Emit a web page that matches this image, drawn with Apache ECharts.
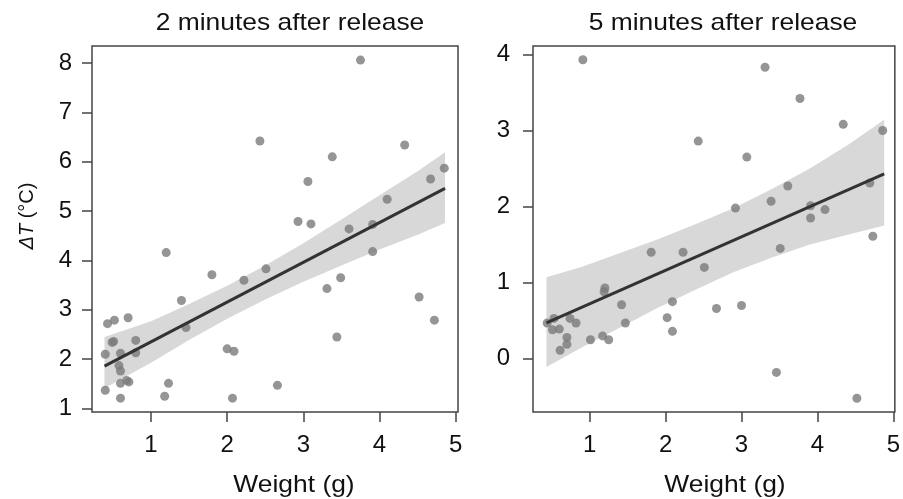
<!DOCTYPE html>
<html>
<head>
<meta charset="utf-8">
<script src="https://cdn.jsdelivr.net/npm/echarts@6/dist/echarts.min.js"></script>
<style>html,body{margin:0;padding:0;background:#fff;}#c{width:903px;height:499px;}</style>
</head>
<body>
<div id="c"></div>
<script>
// ---- data ----
const xTicks = [1, 2, 3, 4, 5];
const yTicks2 = [1, 2, 3, 4, 5, 6, 7, 8];
const yTicks5 = [0, 1, 2, 3, 4];
const titles = ['2 minutes after release', '5 minutes after release'];
const xName = 'Weight (g)';

// 2 minutes after release
const weight2 = [3.75, 2.43, 4.33, 3.38, 4.85, 4.67, 3.06, 4.10, 2.93, 3.10, 3.60, 3.91, 3.91, 3.49, 3.31, 4.52, 4.72, 3.44, 2.66,
  1.20, 1.80, 2.22, 2.51, 1.40, 1.46, 0.43, 0.52, 0.70, 0.51, 0.80, 0.80, 0.40, 0.60, 2.00, 2.09, 0.58, 0.60, 0.60, 0.71,
  0.40, 1.23, 0.60, 1.18, 2.07, 0.68, 0.49];
const dT2 = [8.06, 6.42, 6.34, 6.10, 5.87, 5.65, 5.60, 5.24, 4.79, 4.74, 4.64, 4.73, 4.18, 3.65, 3.43, 3.26, 2.79, 2.45, 1.47,
  4.16, 3.71, 3.60, 3.83, 3.19, 2.64, 2.72, 2.79, 2.84, 2.36, 2.38, 2.13, 2.10, 2.12, 2.21, 2.16, 1.87, 1.76, 1.51, 1.54,
  1.37, 1.51, 1.21, 1.25, 1.21, 1.57, 2.34];
const fit2X = [0.39, 4.86];
const fit2Y = [1.86, 5.46];
const band2X = [0.39, 1.0, 1.5, 2.0, 2.5, 3.0, 3.5, 4.0, 4.5, 4.86];
const band2Lo = [1.41, 1.93, 2.39, 2.82, 3.21, 3.57, 3.90, 4.22, 4.52, 4.76];
const band2Hi = [2.45, 2.77, 3.12, 3.49, 3.90, 4.35, 4.83, 5.32, 5.81, 6.19];

// 5 minutes after release
const weight5 = [0.91, 3.31, 3.77, 4.34, 4.86, 2.43, 3.07, 3.61, 4.69, 3.39, 2.92, 3.91, 4.10, 3.91, 4.73,
  3.51, 1.81, 2.23, 2.51, 1.20, 1.19, 1.42, 2.09, 2.67, 3.00, 2.02, 2.09, 1.47, 0.44, 0.53, 0.51, 0.60, 0.74, 0.82,
  0.70, 0.70, 0.61, 1.01, 1.17, 1.25, 3.46, 4.52];
const dT5 = [3.93, 3.83, 3.42, 3.08, 3.00, 2.86, 2.65, 2.27, 2.31, 2.07, 1.98, 2.01, 1.96, 1.85, 1.61,
  1.45, 1.40, 1.40, 1.20, 0.93, 0.88, 0.71, 0.75, 0.66, 0.70, 0.54, 0.36, 0.47, 0.47, 0.53, 0.38, 0.39, 0.53, 0.47,
  0.28, 0.19, 0.11, 0.25, 0.30, 0.25, -0.18, -0.52];
const fit5X = [0.43, 4.88];
const fit5Y = [0.47, 2.43];
const band5X = [0.43, 0.9, 1.4, 1.9, 2.4, 2.9, 3.4, 3.9, 4.4, 4.88];
const band5Lo = [-0.11, 0.15, 0.41, 0.67, 0.91, 1.14, 1.33, 1.50, 1.63, 1.75];
const band5Hi = [1.07, 1.21, 1.39, 1.57, 1.77, 1.98, 2.23, 2.50, 2.81, 3.14];

// ---- chart ----
const FONT = '"Liberation Sans", Arial, Helvetica, sans-serif';
const AX = '#444';
const chart = echarts.init(document.getElementById('c'), null, {renderer: 'canvas'});

function pairs(xs, ys) { return xs.map((x, i) => [x, ys[i]]); }

function bandSeries(idx, bx, lo, hi) {
  return {
    type: 'custom', xAxisIndex: idx, yAxisIndex: idx, z: 1, silent: true,
    data: [0],
    renderItem: function (params, api) {
      const pts = [];
      for (let i = 0; i < bx.length; i++) pts.push(api.coord([bx[i], hi[i]]));
      for (let i = bx.length - 1; i >= 0; i--) pts.push(api.coord([bx[i], lo[i]]));
      return {type: 'polygon', shape: {points: pts}, style: {fill: '#d8d8d8', stroke: null}};
    }
  };
}

function xAxis(idx, min, max) {
  return {
    type: 'value', gridIndex: idx, min: min, max: max,
    axisLine: {show: false, onZero: false},
    axisTick: {show: true, length: 10, lineStyle: {color: AX, width: 1.5}, customValues: xTicks},
    axisLabel: {customValues: xTicks, fontSize: 24, color: '#111', fontFamily: FONT, margin: 21},
    splitLine: {show: false}
  };
}
function yAxis(idx, min, max, ticks, margin) {
  return {
    type: 'value', gridIndex: idx, min: min, max: max,
    axisLine: {show: false, onZero: false},
    axisTick: {show: true, length: 10, lineStyle: {color: AX, width: 1.5}, customValues: ticks},
    axisLabel: {customValues: ticks, fontSize: 24, color: '#111', fontFamily: FONT, margin: margin},
    splitLine: {show: false}
  };
}

const option = {
  animation: false,
  backgroundColor: '#fff',
  grid: [
    {left: 92, top: 46, width: 366, height: 366, show: true, borderColor: AX, borderWidth: 1.5, backgroundColor: 'transparent'},
    {left: 533, top: 46, width: 365, height: 366, show: true, borderColor: AX, borderWidth: 1.5, backgroundColor: 'transparent'}
  ],
  xAxis: [xAxis(0, 0.226, 5.03), xAxis(1, 0.253, 5.02)],
  yAxis: [yAxis(0, 0.93, 8.345, yTicks2, 20), yAxis(1, -0.70, 4.11, yTicks5, 23)],
  graphic: [
    {type: 'text', x: 290, y: 23, scaleX: 1.1, style: {text: titles[0], fontSize: 24, fontFamily: FONT, fill: '#111', align: 'center', verticalAlign: 'middle'}},
    {type: 'text', x: 723, y: 23, scaleX: 1.1, style: {text: titles[1], fontSize: 24, fontFamily: FONT, fill: '#111', align: 'center', verticalAlign: 'middle'}},
    {type: 'text', x: 294, y: 485, scaleX: 1.1, style: {text: xName, fontSize: 24, fontFamily: FONT, fill: '#111', align: 'center', verticalAlign: 'middle'}},
    {type: 'text', x: 725, y: 485, scaleX: 1.1, style: {text: xName, fontSize: 24, fontFamily: FONT, fill: '#111', align: 'center', verticalAlign: 'middle'}},
    {type: 'text', x: 27, y: 216, rotation: Math.PI / 2, style: {
      text: '{i|ΔT} (°C)', fontSize: 20, fontFamily: FONT, fill: '#111', align: 'center', verticalAlign: 'middle',
      rich: {i: {fontStyle: 'italic', fontSize: 20, fontFamily: FONT, fill: '#111'}}
    }}
  ],
  series: [
    bandSeries(0, band2X, band2Lo, band2Hi),
    {type: 'scatter', xAxisIndex: 0, yAxisIndex: 0, z: 2, symbol: 'circle', symbolSize: 9, silent: true,
      itemStyle: {color: '#7b7b7b'}, data: pairs(weight2, dT2)},
    {type: 'line', xAxisIndex: 0, yAxisIndex: 0, z: 3, symbol: 'none', silent: true,
      lineStyle: {color: '#333', width: 3}, data: pairs(fit2X, fit2Y)},
    bandSeries(1, band5X, band5Lo, band5Hi),
    {type: 'scatter', xAxisIndex: 1, yAxisIndex: 1, z: 2, symbol: 'circle', symbolSize: 9, silent: true,
      itemStyle: {color: '#7b7b7b'}, data: pairs(weight5, dT5)},
    {type: 'line', xAxisIndex: 1, yAxisIndex: 1, z: 3, symbol: 'none', silent: true,
      lineStyle: {color: '#333', width: 3}, data: pairs(fit5X, fit5Y)}
  ]
};
chart.setOption(option);
</script>
</body>
</html>
